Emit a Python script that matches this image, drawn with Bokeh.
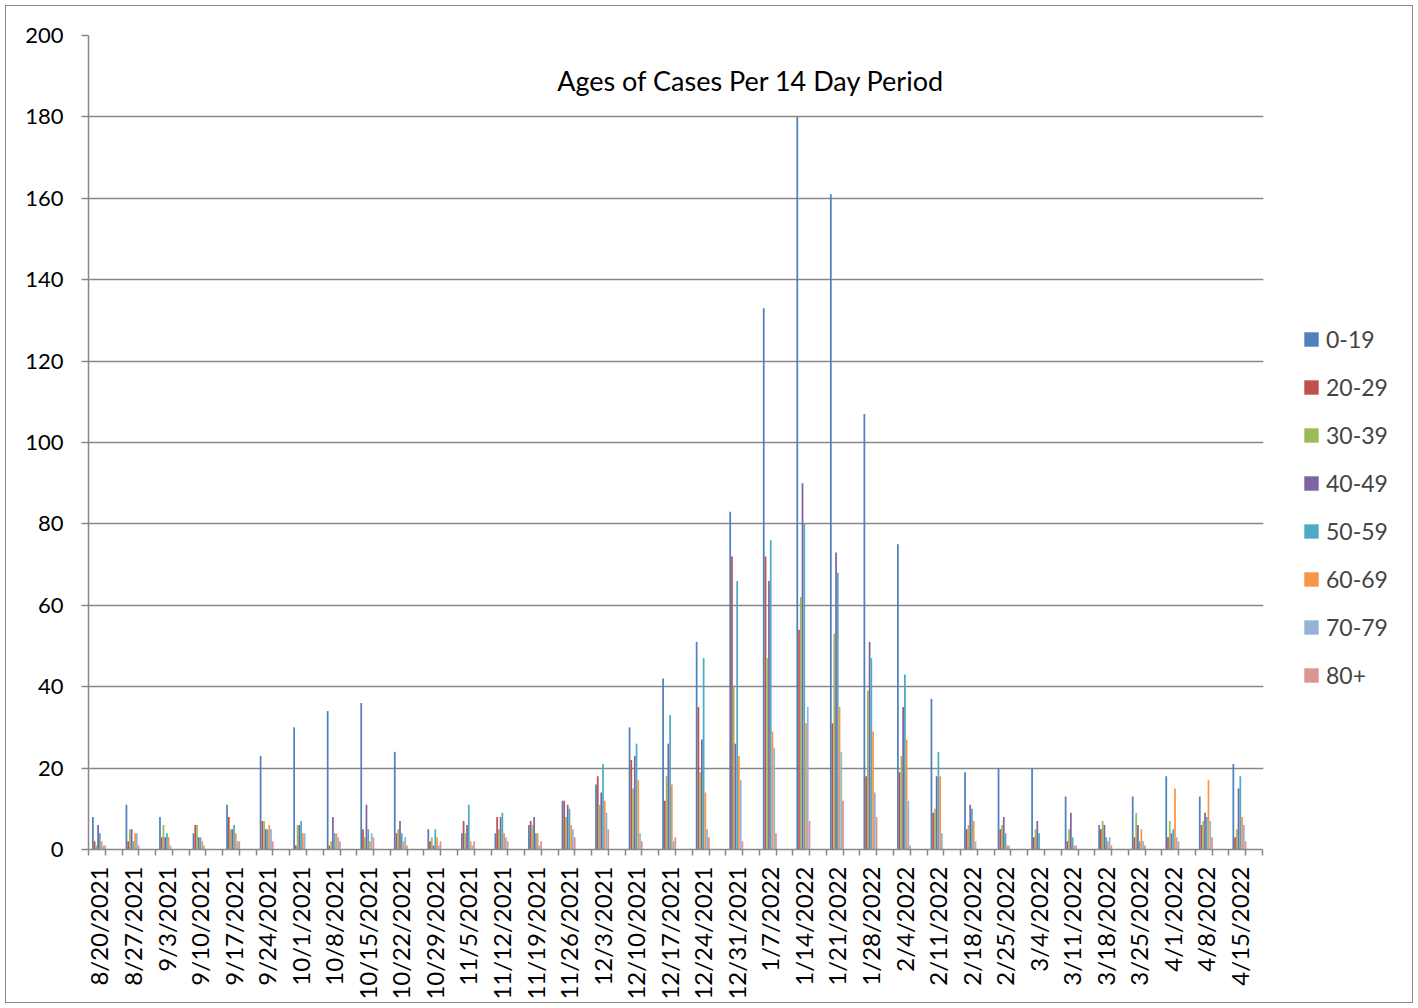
import numpy as np
from bokeh.plotting import figure
from bokeh.models import FixedTicker, Legend, LegendItem, Label, Range1d, BoxAnnotation
from bokeh.embed import file_html
from bokeh.resources import INLINE

dates = ["8/20/2021", "8/27/2021", "9/3/2021", "9/10/2021", "9/17/2021", "9/24/2021",
         "10/1/2021", "10/8/2021", "10/15/2021", "10/22/2021", "10/29/2021", "11/5/2021",
         "11/12/2021", "11/19/2021", "11/26/2021", "12/3/2021", "12/10/2021", "12/17/2021",
         "12/24/2021", "12/31/2021", "1/7/2022", "1/14/2022", "1/21/2022", "1/28/2022",
         "2/4/2022", "2/11/2022", "2/18/2022", "2/25/2022", "3/4/2022", "3/11/2022",
         "3/18/2022", "3/25/2022", "4/1/2022", "4/8/2022", "4/15/2022"]

age_groups = ["0-19", "20-29", "30-39", "40-49", "50-59", "60-69", "70-79", "80+"]

a0_19 = [8, 11, 8, 4, 11, 23, 30, 34, 36, 24, 5, 4, 4, 6, 12, 16, 30, 42, 51, 83, 133, 180, 161, 107, 75, 37, 19, 20, 20, 13, 6, 13, 18, 13, 21]
a20_29 = [2, 2, 3, 6, 8, 7, 1, 1, 5, 4, 2, 7, 8, 7, 12, 18, 22, 12, 35, 72, 72, 54, 31, 18, 19, 9, 5, 5, 3, 2, 5, 3, 3, 6, 3]
a30_39 = [1, 5, 6, 6, 5, 7, 6, 2, 3, 5, 3, 4, 5, 6, 8, 11, 15, 18, 19, 40, 47, 62, 53, 39, 23, 10, 6, 6, 5, 5, 7, 9, 7, 7, 5]
a40_49 = [6, 5, 3, 3, 5, 5, 6, 8, 11, 7, 1, 6, 8, 8, 11, 14, 23, 26, 27, 26, 66, 90, 73, 51, 35, 18, 11, 8, 7, 9, 6, 6, 4, 9, 15]
a50_59 = [4, 2, 4, 3, 6, 5, 7, 4, 5, 4, 5, 11, 9, 4, 10, 21, 26, 33, 47, 66, 76, 80, 68, 47, 43, 24, 10, 4, 4, 3, 3, 2, 5, 8, 18]
a60_69 = [2, 4, 3, 2, 4, 6, 4, 4, 2, 2, 3, 2, 4, 4, 6, 12, 17, 16, 14, 23, 29, 31, 35, 29, 27, 18, 7, 1, 0, 1, 2, 5, 15, 17, 8]
a70_79 = [1, 4, 1, 1, 2, 5, 4, 3, 4, 3, 1, 1, 3, 1, 5, 9, 4, 2, 5, 17, 25, 35, 24, 14, 12, 4, 2, 1, 0, 1, 3, 2, 3, 7, 6]
a80p = [1, 1, 0, 0, 2, 2, 0, 2, 3, 1, 2, 2, 2, 2, 3, 5, 2, 3, 3, 2, 4, 7, 12, 8, 1, 0, 0, 0, 0, 0, 1, 1, 2, 3, 2]

series = [a0_19, a20_29, a30_39, a40_49, a50_59, a60_69, a70_79, a80p]
colors = ["#4F81BD", "#C0504D", "#9BBB59", "#8064A2", "#4BACC6", "#F79646", "#95B3D7", "#D99694"]

FONT = "Lato"
GRAY = "#878787"

n_slots = 2 * len(dates)          # every date followed by an empty slot
x_end = n_slots + 148 / (1174 / n_slots)   # extra room on the right for the legend

p = figure(width=1406, height=996, output_backend="svg", toolbar_location=None,
           x_range=Range1d(0, x_end), y_range=Range1d(0, 200),
           min_border_left=82, min_border_right=2, min_border_top=29, min_border_bottom=152,
           styles={"margin": "6px", "outline": "1.5px solid #8a8a8a"})

centers = np.arange(len(dates)) * 2 + 0.625
bw = 0.104
items = []
for j, (vals, c, name) in enumerate(zip(series, colors, age_groups)):
    xs = centers + (j - 3.5) * bw
    r = p.vbar(x=xs, top=vals, width=bw, bottom=0, fill_color=c, line_color=None)
    items.append(LegendItem(label=name, renderers=[r]))

# axes
p.xaxis.ticker = FixedTicker(ticks=list(centers), minor_ticks=list(range(0, n_slots + 1)))
p.xaxis.bounds = (0, n_slots)
p.xaxis.major_label_overrides = {float(c): d for c, d in zip(centers, dates)}
p.xaxis.major_label_orientation = np.pi / 2
p.xaxis.major_tick_line_color = None
p.xaxis.major_tick_out = 6
p.xaxis.major_label_standoff = 11
p.xaxis.minor_tick_out = 6
p.xaxis.minor_tick_in = 0
p.xaxis.minor_tick_line_color = GRAY
p.xaxis.minor_tick_line_width = 1.5
p.xaxis.major_label_text_font_size = "24px"

p.yaxis.ticker = FixedTicker(ticks=list(range(0, 201, 20)))
p.yaxis.major_tick_out = 7
p.yaxis.major_tick_in = 0
p.yaxis.minor_tick_line_color = None
p.yaxis.major_label_standoff = 18
p.yaxis.major_tick_line_color = GRAY
p.yaxis.major_tick_line_width = 1.5
p.yaxis.major_label_text_font_size = "22px"

for ax in [p.xaxis, p.yaxis]:
    ax.axis_line_color = GRAY
    ax.axis_line_width = 1.5
    ax.major_label_text_font = FONT
    ax.major_label_text_color = "black"

p.xgrid.grid_line_color = None
p.ygrid.grid_line_color = GRAY
p.ygrid.grid_line_width = 1.5
p.outline_line_color = None

# blank out the grid to the right of the plotting area (legend zone)
p.add_layout(BoxAnnotation(left=n_slots + 0.05, fill_color="white", fill_alpha=1.0, line_color=None))

title = Label(x=39.5, y=189, text="Ages of Cases Per 14 Day Period", text_align="center",
              text_baseline="middle", text_font=FONT, text_font_size="27px", text_color="black")
p.add_layout(title)

legend = Legend(items=items, location=(1214, 160), orientation="vertical",
                glyph_width=18, glyph_height=18, label_height=24, spacing=20,
                label_standoff=6, padding=0, margin=0,
                label_text_font=FONT, label_text_font_size="23px",
                border_line_color=None, background_fill_alpha=0)
p.add_layout(legend)

open("out.html", "w").write(file_html(p, INLINE))
